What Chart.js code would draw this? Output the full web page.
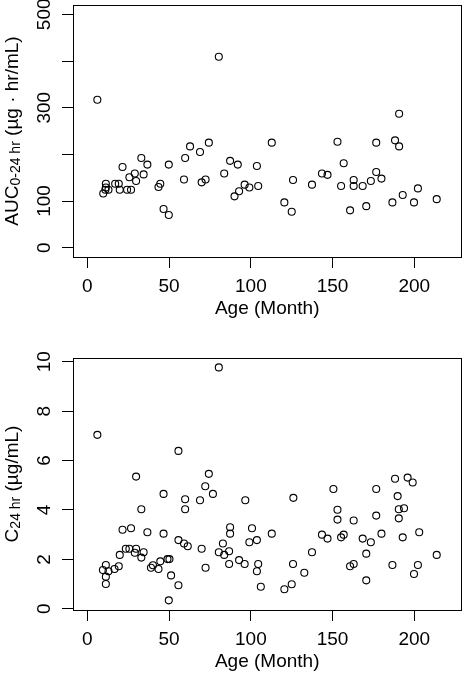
<!DOCTYPE html>
<html>
<head>
<meta charset="utf-8">
<script src="https://cdn.jsdelivr.net/npm/chart.js@4.4.1/dist/chart.umd.min.js"></script>
<style>
  body { margin: 0; background: #fff; }
  #wrapA { position: absolute; left: 0; top: 0; width: 466px; height: 322px; }
  #wrapB { position: absolute; left: 0; top: 322px; width: 466px; height: 353px; }
</style>
</head>
<body>
<div id="wrapA"><canvas id="aucChart" width="466" height="322"></canvas></div>
<div id="wrapB"><canvas id="concChart" width="466" height="353"></canvas></div>
<script>
// AUC 0-24 hr vs age (top panel)
var aucAge = [6.1, 80.4, 190.7, 21.5, 33, 36.7, 49.8, 59.8, 62.8, 68.9, 74.3, 87.3, 92, 103.7,
  112.8, 153, 156.8, 176.7, 188.2, 190.7, 9.7, 11.3, 11.3, 11.0, 12.9, 17, 19.2, 19.8, 24.3,
  26.7, 25.7, 29, 29.8, 34.4, 43.5, 44.6, 46.6, 49.8, 59.1, 69.9, 72.3, 83.7, 90, 92.8, 96.2,
  99.1, 104.5, 120.5, 125, 125.8, 137.4, 143.5, 146.9, 155.2, 160.7, 162.9, 162.9, 168.4,
  170.6, 173.4, 176.7, 179.9, 186.6, 192.9, 199.8, 202.2, 213.7];
var aucVal = [317, 409, 287, 173, 192, 178, 178, 192, 217, 205, 225, 186, 178, 175,
  225, 227, 181, 225, 230, 217, 116, 137, 129, 124, 124, 137, 137, 124, 124,
  124, 151, 159, 143, 157, 130, 137, 83, 70, 146, 140, 146, 159, 110, 121, 135,
  129, 132, 97, 77, 145, 135, 159, 156, 132, 80, 145, 132, 132,
  89, 143, 162, 148, 97, 113, 97, 127, 104];

// C 24 hr vs age (bottom panel)
var concAge = [6.1, 80.4, 55.7, 29.8, 74.3, 72.1, 46.6, 76.8, 59.8, 68.9, 96.6, 126, 150.5, 176.7,
  188.2, 195.9, 199, 189.8, 33, 59.8, 153, 190.5, 193.7, 190.5, 176.7, 153, 162.9,
  21.5, 26.7, 36.7, 46.6, 87.3, 87.3, 100.7, 112.8, 143.5, 156.8, 155.2, 146.9, 168.4,
  179.9, 192.9, 203, 173.4, 55.7, 59.1, 61.4, 69.9, 82.9, 99.1, 103.7,
  23.5, 25.7, 29.8, 29, 34.4, 33, 19.8, 38.9, 40.1, 43.5, 44.6, 49, 50.2, 51.2, 55.7, 49.8,
  72.3, 80.4, 83.7, 86.7, 86.7, 92.8, 96.2, 104.5, 103.7, 106.1, 120.5, 125, 125.8, 132.7,
  137.4, 160.7, 162.9, 170.6, 170.6, 186.6, 199.8, 202.2, 213.7,
  9.5, 11.3, 11.3, 11.3, 12.9, 16.6, 19.2];
var concVal = [7.04, 9.77, 6.39, 5.35, 5.46, 4.96, 4.65, 4.65, 4.43, 4.39, 4.39, 4.49, 4.85, 4.85,
  5.26, 5.31, 5.11, 4.56, 4.03, 4.03, 4.01, 4.03, 4.07, 3.66, 3.77, 3.61, 3.57,
  3.2, 3.26, 3.1, 3.04, 3.3, 3.04, 3.26, 3.04, 3.0, 3.0, 2.89, 2.84, 2.84,
  3.04, 2.89, 3.1, 2.69, 2.78, 2.64, 2.53, 2.43, 2.64, 2.69, 2.78,
  2.43, 2.43, 2.43, 2.27, 2.29, 2.07, 2.18, 1.66, 1.76, 1.61, 1.92, 2.01, 2.01, 1.35, 0.95, 0.34,
  1.66, 2.29, 2.18, 2.33, 1.81, 1.97, 1.81, 1.81, 1.52, 0.89, 0.79, 0.99, 1.81, 1.46,
  2.29, 1.72, 1.81, 1.15, 2.23, 1.77, 1.41, 1.77, 2.18,
  1.57, 1.77, 1.3, 1.0, 1.52, 1.61, 1.72];

var xTicks = [0, 50, 100, 150, 200];
var aucTicks = [0, 100, 200, 300, 400, 500];
var aucTickLabels = [0, 100, 300, 500];   // R drops the overlapping ones
var concTicks = [0, 2, 4, 6, 8, 10];
var concTickLabels = [0, 2, 4, 6, 8, 10];
var xLabel = "Age (Month)";
var aucLabel = [["AUC", 0], ["0-24 hr", 1], [" (\u00b5g \u00b7 hr/mL)", 0]];
var concLabel = [["C", 0], ["24 hr", 1], [" (\u00b5g/mL)", 0]];

var FONT = "'Liberation Sans', Arial, Helvetica, sans-serif";
Chart.defaults.font.family = FONT;
Chart.defaults.color = "#000";

var rPlot = {
  id: "rPlot",
  afterDraw: function(chart, args, opts) {
    var ctx = chart.ctx, a = chart.chartArea;
    ctx.save();
    ctx.strokeStyle = "#000";
    ctx.lineWidth = 1;
    ctx.strokeRect(Math.floor(a.left) + 0.5, Math.floor(a.top) + 0.5,
      Math.floor(a.right) - Math.floor(a.left), Math.floor(a.bottom) - Math.floor(a.top));

    // y tick labels, parallel to the axis like R
    var ys = chart.scales.y;
    ctx.fillStyle = "#000";
    ctx.font = "19px " + FONT;
    ctx.textAlign = "center";
    ctx.textBaseline = "alphabetic";
    ys.ticks.forEach(function(t) {
      if (opts.shown.indexOf(t.value) == -1) return;
      var py = ys.getPixelForValue(t.value);
      ctx.save();
      ctx.translate(49.5, py);
      ctx.rotate(-Math.PI / 2);
      ctx.fillText(String(t.value), 0, 0);
      ctx.restore();
    });

    // y title with subscript
    var parts = opts.label, total = 0;
    ctx.textAlign = "left";
    parts.forEach(function(p) {
      ctx.font = (p[1] ? "14px " : "19px ") + FONT;
      p.w = ctx.measureText(p[0]).width;
      total += p.w;
    });
    ctx.save();
    ctx.translate(17.5, (a.top + a.bottom) / 2);
    ctx.rotate(-Math.PI / 2);
    var x = -total / 2;
    parts.forEach(function(p) {
      ctx.font = (p[1] ? "14px " : "19px ") + FONT;
      ctx.fillText(p[0], x, p[1] ? 2.5 : 0);
      x += p.w;
    });
    ctx.restore();
    ctx.restore();
  }
};

function makeChart(id, xs, ys, yMin, yMax, yTicks, shown, label, topPad) {
  var pts = [];
  for (var i = 0; i < xs.length; i++) pts.push({x: xs[i], y: ys[i]});
  return new Chart(document.getElementById(id), {
    type: "scatter",
    data: {
      datasets: [{
        data: pts,
        pointRadius: 3.5,
        pointHoverRadius: 3.5,
        borderWidth: 1.1,
        borderColor: "#000",
        backgroundColor: "rgba(0,0,0,0)"
      }]
    },
    options: {
      responsive: false,
      animation: false,
      events: [],
      layout: { padding: { top: topPad, right: 1, bottom: 0, left: 0 } },
      plugins: { legend: { display: false }, tooltip: { enabled: false }, rPlot: { label: label, shown: shown } },
      scales: {
        x: {
          type: "linear",
          min: -8.8, max: 228.8,
          afterBuildTicks: function(s) { s.ticks = xTicks.map(function(v) { return {value: v}; }); },
          afterFit: function(s) { s.height = 65; },
          grid: { drawOnChartArea: false, drawTicks: true, tickLength: 11, color: "#000", lineWidth: 1 },
          border: { display: false },
          ticks: { autoSkip: false, maxRotation: 0, padding: 7, font: { size: 19 }, color: "#000" },
          title: { display: true, text: xLabel, font: { size: 19 }, padding: { top: 0, bottom: 2 }, color: "#000" }
        },
        y: {
          type: "linear",
          min: yMin, max: yMax,
          afterBuildTicks: function(s) { s.ticks = yTicks.map(function(v) { return {value: v}; }); },
          afterFit: function(s) { s.width = 73; },
          grid: { drawOnChartArea: false, drawTicks: true, tickLength: 11, color: "#000", lineWidth: 1 },
          border: { display: false },
          ticks: { display: false }
        }
      }
    },
    plugins: [rPlot]
  });
}

makeChart("aucChart", aucAge, aucVal, -20, 520, aucTicks, aucTickLabels, aucLabel, 5);
makeChart("concChart", concAge, concVal, -0.05, 10.15, concTicks, concTickLabels, concLabel, 36);
</script>
</body>
</html>
